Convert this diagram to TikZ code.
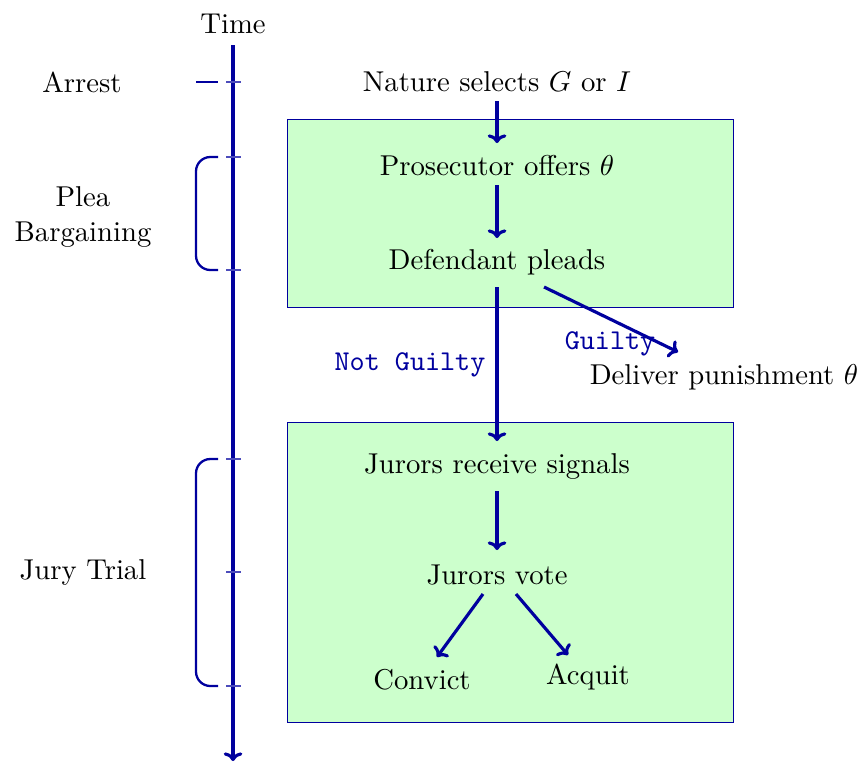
\documentclass[tikz,border=0pt]{standalone}
\usetikzlibrary{calc,arrows.meta}
\definecolor{ink}{rgb}{0,0,0.62}
\definecolor{boxfill}{rgb}{0.8,1,0.8}
\begin{document}
\begin{tikzpicture}[x=0.3485pt,y=-0.3485pt,
  every node/.style={inner sep=0pt,outer sep=0pt},
  txt/.style={anchor=center},
  flow/.style={draw=ink,line width=1.1pt,-{To[length=3pt,width=6.5pt]}},
  axis/.style={draw=ink,line width=1.1pt},
  tick/.style={draw=ink!70,line width=0.4pt},
  bracket/.style={draw=ink,line width=0.8pt,rounded corners=5pt},
  panel/.style={draw=ink,line width=0.35pt,fill=boxfill},
  lbl/.style={text=ink,font=\ttfamily}]
\useasboundingbox (0,0) rectangle (865,763);

% panels
\path[panel] (287,119) rectangle (733,307);
\path[panel] (287,422) rectangle (733,722);

% time axis
\node[txt] (time) at (233,24) {Time};
\coordinate (top) at (233,45);
\coordinate (bot) at (233,761);
\draw[axis,-{To[length=3pt,width=6.5pt]}] (top) -- (bot);
\foreach \y in {82,157,270,459,572,686}
  \draw[tick] (226,\y) -- (241,\y);

% phases
\node[txt] (arrest) at (82,82) {Arrest};
\draw[bracket] (196,82) -- (218,82);
\node[txt,align=center] (plea) at (83,217) {Plea\\Bargaining};
\draw[bracket] (218,157) -- (196,157) -- (196,270) -- (218,270);
\node[txt] (jury) at (83,572) {Jury Trial};
\draw[bracket] (218,459) -- (196,459) -- (196,686) -- (218,686);

% events
\node[txt] (nature) at (497,82) {Nature selects $G$ or $I$};
\node[txt] (offer) at (497,166) {Prosecutor offers $\theta$};
\node[txt] (plead) at (497,262) {Defendant pleads};
\node[txt] (punish) at (724,377) {Deliver punishment $\theta$};
\node[txt] (signals) at (497,466) {Jurors receive signals};
\node[txt] (vote) at (497,575) {Jurors vote};
\node[txt] (convict) at (422,680) {Convict};
\node[txt] (acquit) at (588,677) {Acquit};

% plea outcomes
\node[lbl] (ng) at (410,365) {Not Guilty};
\node[lbl] (g) at (610,344) {Guilty};

% transitions
\draw[flow] ($(nature)+(0,19)$) -- ($(offer)+(0,-23)$);
\draw[flow] ($(offer)+(0,19)$) -- ($(plead)+(0,-24)$);
\draw[flow] ($(plead)+(0,25)$) -- ($(signals)+(0,-25)$);
\draw[flow] ($(plead)+(47,25)$) -- ($(punish)+(-46,-25)$);
\draw[flow] ($(signals)+(0,25)$) -- ($(vote)+(0,-25)$);
\draw[flow] ($(vote)+(-14,19)$) -- ($(convict)+(15,-23)$);
\draw[flow] ($(vote)+(19,19)$) -- ($(acquit)+(-20,-22)$);
\end{tikzpicture}
\end{document}
